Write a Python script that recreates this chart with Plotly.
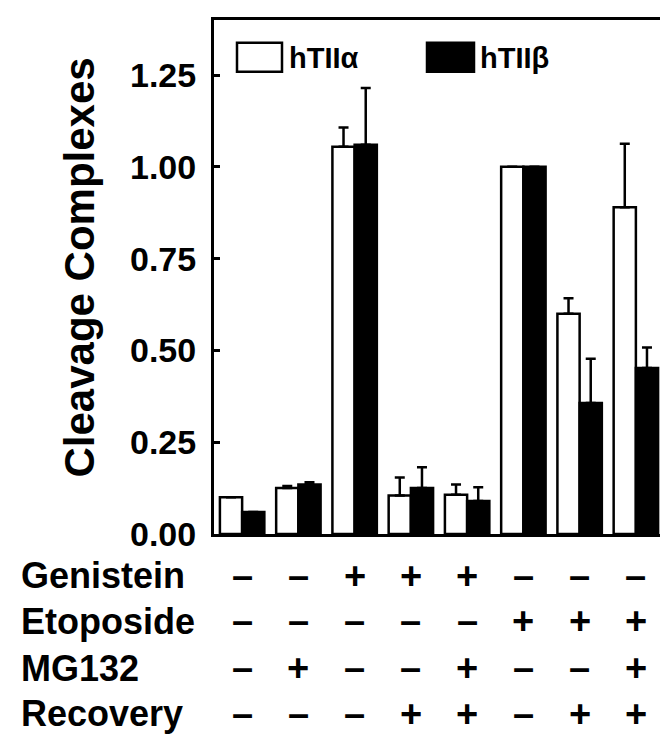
import plotly.graph_objects as go

# ---- data ----
groups = ["G1", "G2", "G3", "G4", "G5", "G6", "G7", "G8"]
alpha_vals = [0.10, 0.125, 1.055, 0.105, 0.107, 1.00, 0.60, 0.89]
alpha_err = [0, 0.006, 0.052, 0.049, 0.028, 0, 0.042, 0.173]
beta_vals = [0.06, 0.135, 1.06, 0.125, 0.09, 1.00, 0.357, 0.452]
beta_err = [0, 0.006, 0.155, 0.057, 0.037, 0, 0.120, 0.056]
series_names = ["hTIIα", "hTIIβ"]
y_ticks = [0.0, 0.25, 0.50, 0.75, 1.00, 1.25]
y_title = "Cleavage Complexes"
row_labels = ["Genistein", "Etoposide", "MG132", "Recovery"]
genistein = ["–", "–", "+", "+", "+", "–", "–", "–"]
etoposide = ["–", "–", "–", "–", "–", "+", "+", "+"]
mg132 = ["–", "+", "–", "–", "+", "–", "–", "+"]
recovery = ["–", "–", "–", "+", "+", "–", "+", "+"]
rows = [genistein, etoposide, mg132, recovery]

# ---- layout geometry (pixels) ----
W, H = 668, 735
L, R, T, B = 206, 656, 9, 526
FONT = "Liberation Sans, Arial, sans-serif"


def px(x):
    return (x - L) / (R - L)


def py(y):
    return (B - y) / (B - T)


fig = go.Figure()
fig.add_trace(go.Bar(
    x=groups, y=alpha_vals, name=series_names[0],
    marker=dict(color="white", line=dict(color="black", width=2.5)),
    error_y=dict(type="data", symmetric=False, array=alpha_err,
                 arrayminus=[0] * len(alpha_err), color="black",
                 thickness=2.5, width=5),
))
fig.add_trace(go.Bar(
    x=groups, y=beta_vals, name=series_names[1],
    marker=dict(color="black", line=dict(color="black", width=2.5)),
    error_y=dict(type="data", symmetric=False, array=beta_err,
                 arrayminus=[0] * len(beta_err), color="black",
                 thickness=2.5, width=5),
))

annotations = []
shapes = []

# manual legend
leg = [(229, 274, "white", 279, series_names[0]),
       (419, 466, "black", 470, series_names[1])]
for x0, x1, col, tx, name in leg:
    shapes.append(dict(type="rect", xref="paper", yref="paper",
                       x0=px(x0), x1=px(x1), y0=py(61), y1=py(32),
                       fillcolor=col, line=dict(color="black", width=2.5)))
    annotations.append(dict(xref="paper", yref="paper", x=px(tx), y=py(47),
                            text=name, showarrow=False, xanchor="left",
                            yanchor="middle",
                            font=dict(family=FONT, size=29, color="black",
                                      weight="bold")))

# y-axis title
annotations.append(dict(xref="paper", yref="paper", x=px(72), y=py(258),
                        text=y_title, textangle=-90, showarrow=False,
                        xanchor="center", yanchor="middle",
                        font=dict(family=FONT, size=42, color="black",
                                  weight="bold")))

# condition table
row_y = [568, 614, 661, 707]
for lab, vals, yy in zip(row_labels, rows, row_y):
    annotations.append(dict(xref="paper", yref="paper", x=px(11), y=py(yy),
                            text=lab, showarrow=False, xanchor="left",
                            yanchor="middle",
                            font=dict(family=FONT, size=36, color="black",
                                      weight="bold")))
    for g, s in zip(groups, vals):
        annotations.append(dict(xref="x", yref="paper", x=g, y=py(yy),
                                text=s, showarrow=False, xanchor="center",
                                yanchor="middle",
                                font=dict(family=FONT, size=38, color="black",
                                          weight="bold")))

fig.update_layout(
    width=W, height=H,
    margin=dict(l=L, r=W - R, t=T, b=H - B, pad=0),
    paper_bgcolor="white", plot_bgcolor="white",
    barmode="group", bargap=0.21, bargroupgap=0,
    showlegend=False,
    annotations=annotations, shapes=shapes,
    font=dict(family=FONT, color="black"),
)
fig.update_xaxes(showticklabels=False, ticks="", showgrid=False,
                 showline=True, linecolor="black", linewidth=3, mirror=True,
                 zeroline=False)
fig.update_yaxes(range=[0, 1.40], tickvals=y_ticks,
                 ticktext=[f"{v:.2f}" for v in y_ticks],
                 ticks="inside", ticklen=6, tickwidth=2.5, tickcolor="black",
                 showgrid=False, zeroline=False, showline=True,
                 linecolor="black", linewidth=3, mirror=True,
                 ticklabelstandoff=8,
                 tickfont=dict(family=FONT, size=34, color="black",
                               weight="bold"))

fig.write_html("out.html")
